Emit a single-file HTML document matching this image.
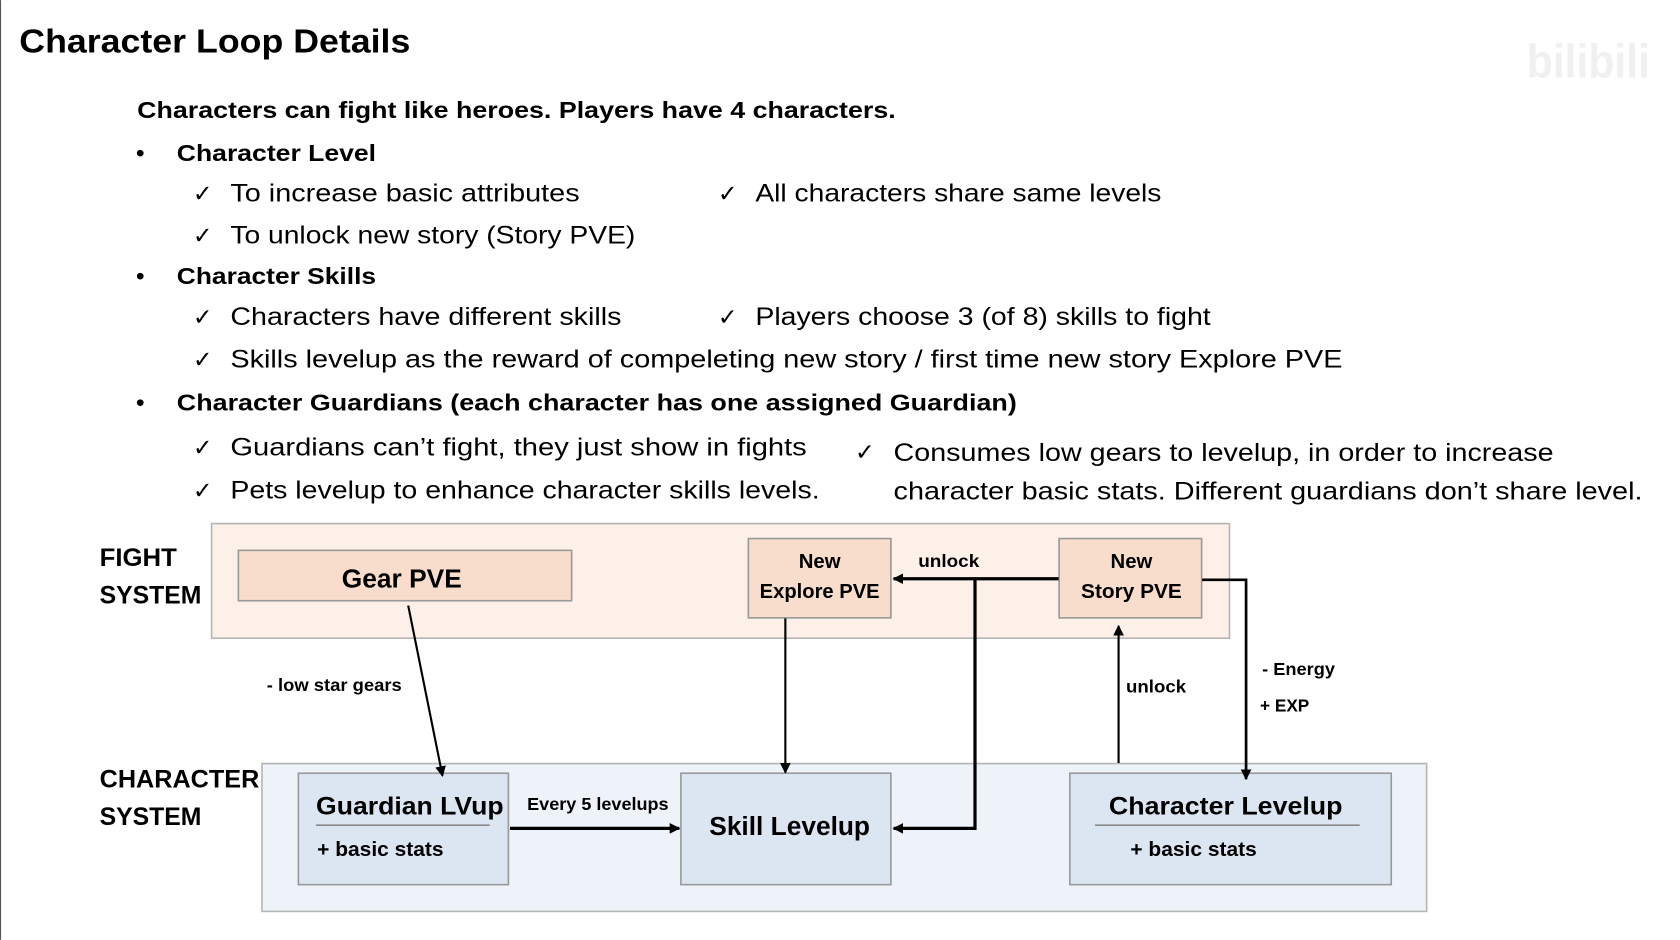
<!DOCTYPE html>
<html><head><meta charset="utf-8"><style>
html,body{margin:0;padding:0;background:#fff;overflow:hidden}
svg{display:block}
text{font-family:"Liberation Sans",sans-serif;fill:#000}
.b{font-weight:bold}
</style></head><body>
<svg width="1680" height="940" viewBox="0 0 1568 877" xmlns="http://www.w3.org/2000/svg">
<defs>
<marker id="ah" viewBox="0 0 10 10" refX="9" refY="5" markerWidth="4" markerHeight="4" orient="auto" markerUnits="userSpaceOnUse"><path d="M0,0 L10,5 L0,10 z" fill="#000"/></marker>
<marker id="a2" viewBox="0 0 10 10" refX="9" refY="5" markerWidth="10" markerHeight="10" orient="auto" markerUnits="userSpaceOnUse"><path d="M0,0 L10,5 L0,10 z" fill="#000"/></marker>
</defs>
<rect x="0" y="0" width="1568" height="877" fill="#fff"/>
<line x1="0.5" y1="0" x2="0.5" y2="877" stroke="#555" stroke-width="1"/>
<text x="1425" y="72" font-size="44" class="b" style="fill:#f0f0f0" textLength="115" lengthAdjust="spacingAndGlyphs">bilibili</text>

<text x="18" y="49" font-size="31" class="b" textLength="365" lengthAdjust="spacingAndGlyphs">Character Loop Details</text>
<text x="128" y="110" font-size="22" class="b" textLength="708" lengthAdjust="spacingAndGlyphs">Characters can fight like heroes. Players have 4 characters.</text>

<text x="127" y="150" font-size="22" class="b">•</text>
<text x="165" y="150" font-size="22" class="b" textLength="186" lengthAdjust="spacingAndGlyphs">Character Level</text>
<text x="180" y="188" font-size="22">✓</text>
<text x="215" y="188" font-size="23" textLength="326" lengthAdjust="spacingAndGlyphs">To increase basic attributes</text>
<text x="670" y="188" font-size="22">✓</text>
<text x="705" y="188" font-size="23" textLength="379" lengthAdjust="spacingAndGlyphs">All characters share same levels</text>
<text x="180" y="227" font-size="22">✓</text>
<text x="215" y="227" font-size="23" textLength="378" lengthAdjust="spacingAndGlyphs">To unlock new story (Story PVE)</text>

<text x="127" y="265" font-size="22" class="b">•</text>
<text x="165" y="265" font-size="22" class="b" textLength="186" lengthAdjust="spacingAndGlyphs">Character Skills</text>
<text x="180" y="303" font-size="22">✓</text>
<text x="215" y="303" font-size="23" textLength="365" lengthAdjust="spacingAndGlyphs">Characters have different skills</text>
<text x="670" y="303" font-size="22">✓</text>
<text x="705" y="303" font-size="23" textLength="425" lengthAdjust="spacingAndGlyphs">Players choose 3 (of 8) skills to fight</text>
<text x="180" y="343" font-size="22">✓</text>
<text x="215" y="343" font-size="23" textLength="1038" lengthAdjust="spacingAndGlyphs">Skills levelup as the reward of compeleting new story / first time new story Explore PVE</text>

<text x="127" y="383" font-size="22" class="b">•</text>
<text x="165" y="383" font-size="22" class="b" textLength="784" lengthAdjust="spacingAndGlyphs">Character Guardians (each character has one assigned Guardian)</text>
<text x="180" y="425" font-size="22">✓</text>
<text x="215" y="425" font-size="23" textLength="538" lengthAdjust="spacingAndGlyphs">Guardians can’t fight, they just show in fights</text>
<text x="180" y="465" font-size="22">✓</text>
<text x="215" y="465" font-size="23" textLength="550" lengthAdjust="spacingAndGlyphs">Pets levelup to enhance character skills levels.</text>
<text x="798" y="429" font-size="22">✓</text>
<text x="834" y="430" font-size="23" textLength="616" lengthAdjust="spacingAndGlyphs">Consumes low gears to levelup, in order to increase</text>
<text x="834" y="466" font-size="23" textLength="699" lengthAdjust="spacingAndGlyphs">character basic stats. Different guardians don’t share level.</text>

<!-- Fight system -->
<rect x="197.5" y="488.5" width="950" height="107" fill="#fcf0e8" stroke="#b5b5b5" stroke-width="1.5"/>
<text x="93" y="528" font-size="23" class="b" textLength="72" lengthAdjust="spacingAndGlyphs">FIGHT</text>
<text x="93" y="563" font-size="23" class="b" textLength="95" lengthAdjust="spacingAndGlyphs">SYSTEM</text>
<rect x="222.5" y="513.5" width="311" height="47" fill="#f8ddcc" stroke="#999" stroke-width="1.5"/>
<text x="375" y="548" font-size="24" class="b" text-anchor="middle" textLength="112" lengthAdjust="spacingAndGlyphs">Gear PVE</text>
<rect x="698.5" y="502.5" width="133" height="74" fill="#f8ddcc" stroke="#999" stroke-width="1.5"/>
<text x="765" y="530" font-size="19" class="b" text-anchor="middle">New</text>
<text x="765" y="558" font-size="19" class="b" text-anchor="middle" textLength="112" lengthAdjust="spacingAndGlyphs">Explore PVE</text>
<rect x="988.5" y="502.5" width="133" height="74" fill="#f8ddcc" stroke="#999" stroke-width="1.5"/>
<text x="1056" y="530" font-size="19" class="b" text-anchor="middle">New</text>
<text x="1056" y="558" font-size="19" class="b" text-anchor="middle" textLength="94" lengthAdjust="spacingAndGlyphs">Story PVE</text>

<!-- Character system -->
<rect x="244.5" y="712.5" width="1087" height="138" fill="#eef3fa" stroke="#b5b5b5" stroke-width="1.5"/>
<text x="93" y="735" font-size="23" class="b" textLength="149" lengthAdjust="spacingAndGlyphs">CHARACTER</text>
<text x="93" y="770" font-size="23" class="b" textLength="95" lengthAdjust="spacingAndGlyphs">SYSTEM</text>
<rect x="278.5" y="721.5" width="196" height="104" fill="#dce6f2" stroke="#999" stroke-width="1.5"/>
<text x="295" y="760" font-size="23" class="b" textLength="175" lengthAdjust="spacingAndGlyphs">Guardian LVup</text>
<line x1="295" y1="770" x2="457" y2="770" stroke="#888" stroke-width="1.5"/>
<text x="296" y="799" font-size="19" class="b" textLength="118" lengthAdjust="spacingAndGlyphs">+ basic stats</text>
<rect x="635.5" y="721.5" width="196" height="104" fill="#dce6f2" stroke="#999" stroke-width="1.5"/>
<text x="737" y="779" font-size="24" class="b" text-anchor="middle" textLength="150" lengthAdjust="spacingAndGlyphs">Skill Levelup</text>
<rect x="998.5" y="721.5" width="300" height="104" fill="#dce6f2" stroke="#999" stroke-width="1.5"/>
<text x="1144" y="760" font-size="23" class="b" text-anchor="middle" textLength="218" lengthAdjust="spacingAndGlyphs">Character Levelup</text>
<line x1="1022" y1="770" x2="1269" y2="770" stroke="#888" stroke-width="1.5"/>
<text x="1055" y="799" font-size="19" class="b" textLength="118" lengthAdjust="spacingAndGlyphs">+ basic stats</text>

<!-- connectors -->
<line x1="381" y1="565" x2="413" y2="724" stroke="#000" stroke-width="2" marker-end="url(#a2)"/>
<text x="249" y="645" font-size="16" class="b" textLength="126" lengthAdjust="spacingAndGlyphs">- low star gears</text>
<line x1="733" y1="577" x2="733" y2="721" stroke="#000" stroke-width="2" marker-end="url(#a2)"/>
<line x1="988" y1="540" x2="834" y2="540" stroke="#000" stroke-width="3" marker-end="url(#a2)"/>
<text x="857" y="529" font-size="16" class="b" textLength="57" lengthAdjust="spacingAndGlyphs">unlock</text>
<polyline points="910,540 910,773 834,773" fill="none" stroke="#000" stroke-width="3" marker-end="url(#a2)"/>
<line x1="476" y1="773" x2="634" y2="773" stroke="#000" stroke-width="3" marker-end="url(#a2)"/>
<text x="492" y="756" font-size="16" class="b" textLength="132" lengthAdjust="spacingAndGlyphs">Every 5 levelups</text>
<line x1="1044" y1="712" x2="1044" y2="584" stroke="#000" stroke-width="2" marker-end="url(#a2)"/>
<text x="1051" y="646" font-size="16" class="b" textLength="56" lengthAdjust="spacingAndGlyphs">unlock</text>
<polyline points="1122,541 1163,541 1163,727" fill="none" stroke="#000" stroke-width="2.5" marker-end="url(#a2)"/>
<text x="1178" y="630" font-size="16" class="b" textLength="68" lengthAdjust="spacingAndGlyphs">- Energy</text>
<text x="1176" y="664" font-size="16" class="b" textLength="46" lengthAdjust="spacingAndGlyphs">+ EXP</text>
</svg>
</body></html>
